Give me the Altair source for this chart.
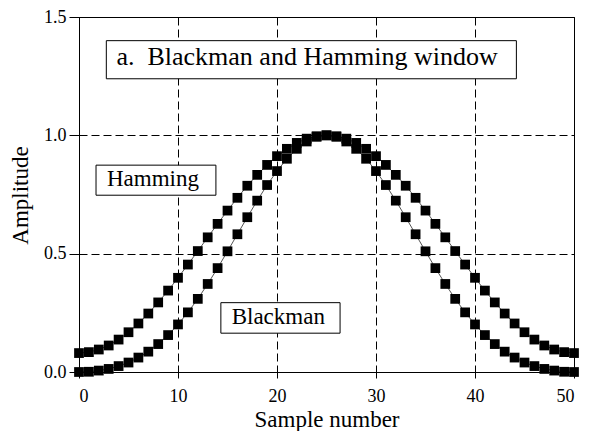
import altair as alt
import pandas as pd

# ---- data ----
samples = list(range(51))
hamming = [0.080, 0.084, 0.095, 0.112, 0.137, 0.168, 0.205, 0.247, 0.294, 0.344,
           0.398, 0.454, 0.511, 0.569, 0.626, 0.682, 0.736, 0.787, 0.833, 0.875,
           0.912, 0.943, 0.968, 0.986, 0.996, 1.000, 0.996, 0.986, 0.968, 0.943,
           0.912, 0.875, 0.833, 0.787, 0.736, 0.682, 0.626, 0.569, 0.511, 0.454,
           0.398, 0.344, 0.294, 0.247, 0.205, 0.168, 0.137, 0.112, 0.095, 0.084,
           0.080]
blackman = [0.000, 0.001, 0.006, 0.013, 0.025, 0.040, 0.061, 0.086, 0.118, 0.156,
            0.201, 0.252, 0.309, 0.372, 0.439, 0.510, 0.582, 0.654, 0.724, 0.790,
            0.849, 0.901, 0.943, 0.974, 0.994, 1.000, 0.994, 0.974, 0.943, 0.901,
            0.849, 0.790, 0.724, 0.654, 0.582, 0.510, 0.439, 0.372, 0.309, 0.252,
            0.201, 0.156, 0.118, 0.086, 0.061, 0.040, 0.025, 0.013, 0.006, 0.001,
            0.000]
x_ticks = [0, 10, 20, 30, 40, 50]
y_ticks = [0.0, 0.5, 1.0, 1.5]

label_texts = ["a.\u00a0\u00a0Blackman and Hamming window", "Hamming", "Blackman"]

FONT = "Liberation Serif"

df = pd.DataFrame({
    "n": samples * 2,
    "amp": hamming + blackman,
    "series": ["Hamming"] * len(samples) + ["Blackman"] * len(samples),
})

# annotation boxes (positions in data units)
boxes = pd.DataFrame({
    "x1": [2.76, 1.72, 14.33],
    "x2": [44.18, 13.83, 26.37],
    "y1": [1.40, 0.874, 0.293],
    "y2": [1.239, 0.747, 0.164],
    "tx": [3.78, 2.82, 15.42],
    "ty": [1.296, 0.786, 0.203],
    "label": label_texts,
    "size": [26, 23, 23],
})

xs = alt.Scale(domain=[0, 50], nice=False)
ys = alt.Scale(domain=[0, 1.5], nice=False)

x_axis = alt.Axis(values=x_ticks, format="d", title="Sample number",
                  grid=True, gridDash=[8, 4], gridColor="black", gridWidth=1,
                  tickSize=6, labelPadding=9, labelFontSize=18,
                  titleFontSize=23, titleBaseline="alphabetic", titleY=54)
y_axis = alt.Axis(values=y_ticks, format=".1f", title="Amplitude",
                  grid=True, gridDash=[8, 4], gridColor="black", gridWidth=1,
                  tickSize=10, labelPadding=3, labelFontSize=18,
                  titleFontSize=23, titleX=-47, titleY=178)

line = alt.Chart(df).mark_line(color="#555555", strokeWidth=1).encode(
    x=alt.X("n:Q", scale=xs, axis=x_axis),
    y=alt.Y("amp:Q", scale=ys, axis=y_axis),
    detail="series:N",
)
pts = alt.Chart(df).mark_square(size=95, color="black", opacity=1, filled=True).encode(
    x=alt.X("n:Q", scale=xs),
    y=alt.Y("amp:Q", scale=ys),
)

rects = alt.Chart(boxes).mark_rect(fill="white", stroke="black", strokeWidth=1).encode(
    x=alt.X("x1:Q", scale=xs), x2="x2:Q",
    y=alt.Y("y1:Q", scale=ys), y2="y2:Q",
)
texts = alt.Chart(boxes).mark_text(align="left", baseline="alphabetic", font=FONT,
                                   color="black").encode(
    x=alt.X("tx:Q", scale=xs),
    y=alt.Y("ty:Q", scale=ys),
    text="label:N",
    size=alt.Size("size:Q", scale=None, legend=None),
)

chart = alt.layer(line, pts, rects, texts).properties(
    width=495, height=355,
    autosize=alt.AutoSizeParams(type="none"),
    padding={"left": 71, "top": 9, "right": 10, "bottom": 59},
).configure_view(
    stroke="black", strokeWidth=1
).configure_axis(
    labelFont=FONT, titleFont=FONT, labelColor="black", titleColor="black",
    domainColor="black", tickColor="black", titleFontWeight="normal",
)

chart.save("out.html", embed_options={"renderer": "svg", "actions": False})
